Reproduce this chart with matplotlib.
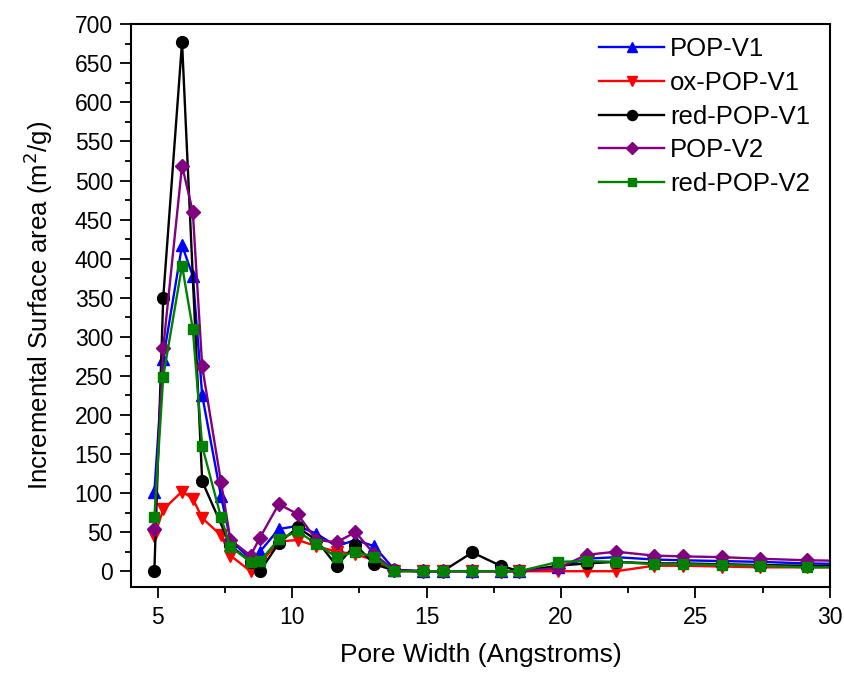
import numpy as np
import matplotlib
matplotlib.use('Agg')
import matplotlib.pyplot as plt
from matplotlib.ticker import MultipleLocator

plt.rcParams['font.family'] = ['Liberation Sans', 'DejaVu Sans']

# pore width grid (Angstroms)
width = [4.87, 5.2, 5.9, 6.3, 6.65, 7.35, 7.7, 8.45, 8.8, 9.5, 10.2, 10.9, 11.65,
         12.35, 13.05, 13.8, 14.85, 15.6, 16.7, 17.75, 18.45, 19.9, 20.95, 22.05,
         23.45, 24.55, 26.0, 27.4, 29.15, 31.0]
# red-POP-V1 has no points at 6.3 and 7.35
width_red_v1 = [w for w in width if w not in (6.3, 7.35)]

pop_v1 = [101, 272, 417, 378, 225, 96, 40, 15, 25, 54, 58, 48, 32, 40, 32, 2, 0, 0,
          0, 0, 0, 5, 16, 18, 15, 14, 13, 12, 10, 9]
ox_pop_v1 = [45, 79, 102, 93, 68, 46, 20, 0, 10, 38, 40, 32, 25, 22, 14, 0, 0, 0,
             0, 0, 0, 0, 0, 0, 7, 7, 6, 5, 5, 5]
red_pop_v1 = [0, 350, 677, 115, 33, 12, 0, 36, 56, 40, 7, 34, 9, 1, 0, 0, 24, 7,
              0, 7, 10, 12, 10, 10, 9, 8, 7, 6]
pop_v2 = [54, 286, 519, 460, 262, 114, 40, 20, 43, 86, 73, 40, 37, 50, 22, 1, 0, 0,
          0, 0, 0, 4, 21, 25, 20, 19, 18, 16, 14, 13]
red_pop_v2 = [69, 249, 391, 310, 160, 69, 31, 12, 13, 41, 51, 35, 18, 25, 18, 0, 0, 0,
              0, 0, 0, 12, 13, 12, 9, 9, 8, 7, 5, 5]

fig = plt.figure(figsize=(8.45, 6.73), dpi=100)
ax = fig.add_axes([0.155, 0.128, 0.827, 0.836])

ms = 8.5
lw = 1.7
ax.plot(width, pop_v1, color='#0000ff', marker='^', ms=ms, lw=lw, label='POP-V1')
ax.plot(width, ox_pop_v1, color='#ff0000', marker='v', ms=ms, lw=lw, label='ox-POP-V1')
ax.plot(width_red_v1, red_pop_v1, color='black', marker='o', ms=ms, lw=lw, label='red-POP-V1')
ax.plot(width, pop_v2, color='#800080', marker='D', ms=ms - 1, lw=lw, label='POP-V2')
ax.plot(width, red_pop_v2, color='#008000', marker='s', ms=ms - 1, lw=lw, label='red-POP-V2')

ax.set_xlim(4, 30)
ax.set_ylim(-20, 700)
ax.xaxis.set_major_locator(MultipleLocator(5))
ax.xaxis.set_minor_locator(MultipleLocator(2.5))
ax.yaxis.set_major_locator(MultipleLocator(50))
ax.yaxis.set_minor_locator(MultipleLocator(25))
ax.tick_params(which='major', direction='out', length=8, width=1.3, labelsize=16.5)
ax.tick_params(which='minor', direction='out', length=4.5, width=1.3)
ax.tick_params(axis='x', which='major', pad=6)
ax.tick_params(axis='y', which='major', pad=5)
ax.tick_params(top=False, right=False)
for s in ax.spines.values():
    s.set_linewidth(1.5)

ax.set_xlabel('Pore Width (Angstroms)', fontsize=19, labelpad=10)
ax.set_ylabel('Incremental Surface area (m$^2$/g)', fontsize=18.5, labelpad=14)

leg = ax.legend(loc='upper left', bbox_to_anchor=(0.652, 1.0), frameon=False,
                fontsize=18.5, handlelength=2.5, handletextpad=0.25,
                markerscale=0.85, labelspacing=0.38, borderaxespad=0.1)

fig.savefig('out.png', dpi=100)
